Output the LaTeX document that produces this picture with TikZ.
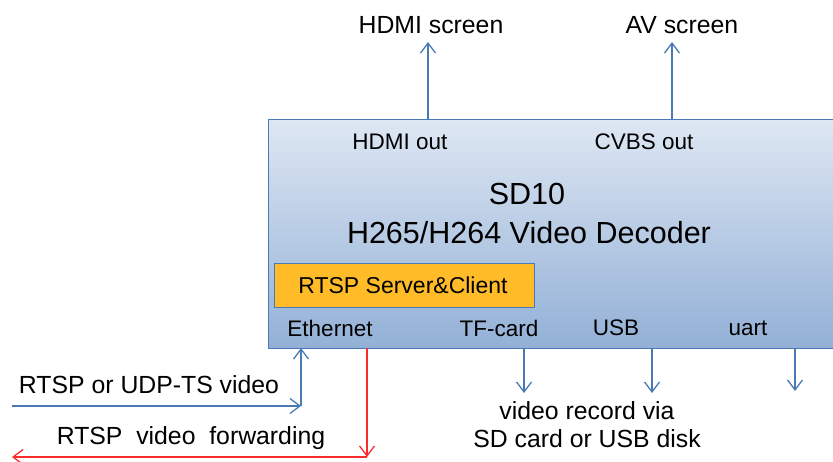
\documentclass[tikz,border=0pt]{standalone}
\usepackage{fontspec}
\setmainfont{Liberation Sans}
\usetikzlibrary{arrows.meta}
\definecolor{lineblue}{RGB}{74,122,181}
\definecolor{boxtop}{RGB}{222,231,243}
\definecolor{boxbot}{RGB}{146,176,214}
\definecolor{orangefill}{RGB}{255,188,40}
\definecolor{redline}{RGB}{250,45,45}
\tikzset{
  lbl/.style={inner sep=0pt, font=\fontsize{22.5}{26}\selectfont},
  outlbl/.style={inner sep=0pt, font=\fontsize{24.8}{29}\selectfont},
  big/.style={inner sep=0pt, font=\fontsize{30.5}{34}\selectfont},
  arr/.style={draw=lineblue, line width=1.3pt, -{Straight Barb[length=10pt,width=15pt,line width=1.3pt]}},
  rarr/.style={draw=redline, line width=1.3pt, -{Straight Barb[length=10pt,width=15pt,line width=1.3pt]}},
  mainbox/.style={draw=lineblue, line width=1.3pt, top color=boxtop, bottom color=boxbot, inner sep=0pt},
  rtspbox/.style={draw=lineblue, line width=1pt, fill=orangefill, inner sep=0pt}
}
\begin{document}
\begin{tikzpicture}[x=1pt,y=-1pt]
\clip (0,0) rectangle (833,462);
\node[mainbox, minimum width=580pt, minimum height=229pt, anchor=north west] (box) at (268,119) {};
\node[rtspbox, minimum width=260pt, minimum height=44pt, anchor=north west] (rtsp) at (274,263) {};
\node[lbl, font=\fontsize{23}{27}\selectfont] (rtsptext) at (403,285) {RTSP Server\&Client};
\node[lbl] (hdmiout) at (400,142) {HDMI out};
\node[lbl] (cvbsout) at (644,142) {CVBS out};
\node[big] (sd10) at (527,194) {SD10};
\node[big] (decoder) at (529,233) {H265/H264 Video Decoder};
\node[lbl] (eth) at (330,328) {Ethernet};
\node[lbl] (tf) at (499,328) {TF-card};
\node[lbl] (usb) at (616,328) {USB};
\node[lbl] (uart) at (748,328) {uart};
\node[outlbl] (hdmiscreen) at (431,25) {HDMI screen};
\node[outlbl] (avscreen) at (682,25) {AV screen};
\node[outlbl] (record1) at (587,411) {video record via};
\node[outlbl] (record2) at (587,439) {SD card or USB disk};
\node[outlbl] (rtspin) at (149,385) {RTSP or UDP-TS video};
\node[outlbl] (rtspfwd) at (191,438) {RTSP\ \ video\ \ forwarding};
% coordinates
\coordinate (hdmitip) at (428,42);
\coordinate (hdmibase) at (428,119);
\coordinate (avtip) at (672,42);
\coordinate (avbase) at (672,119);
\coordinate (tfbase) at (524,348);
\coordinate (tftip) at (524,393);
\coordinate (usbbase) at (652,348);
\coordinate (usbtip) at (652,393);
\coordinate (uartbase) at (795,348);
\coordinate (uarttip) at (795,391);
\coordinate (inst) at (12,406);
\coordinate (incorner) at (301,406);
\coordinate (inbase) at (301,348);
\coordinate (fwdbase) at (367,348);
\coordinate (fwdcorner) at (367,457);
\coordinate (fwdend) at (12,457);
% connectors
\draw[arr] (hdmibase) -- (hdmitip);
\draw[arr] (avbase) -- (avtip);
\draw[arr] (tfbase) -- (tftip);
\draw[arr] (usbbase) -- (usbtip);
\draw[arr] (uartbase) -- (uarttip);
\draw[arr] (inst) -- (incorner);
\draw[arr] (incorner) -- (inbase);
\draw[rarr] (fwdbase) -- (fwdcorner);
\draw[rarr] (fwdcorner) -- (fwdend);
\end{tikzpicture}
\end{document}
